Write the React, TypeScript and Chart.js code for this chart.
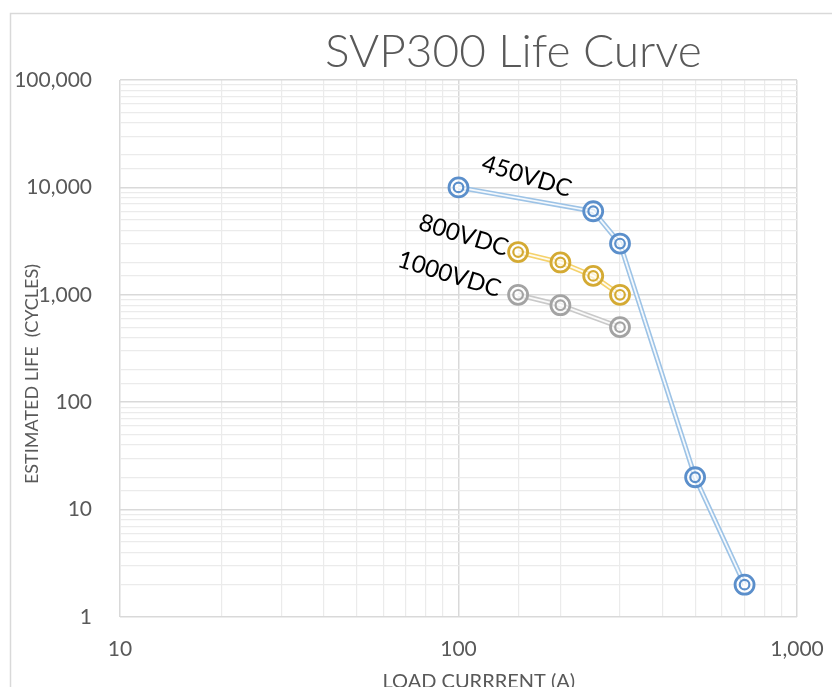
import React, { useEffect, useRef } from "react";
import { Chart, registerables } from "chart.js";

Chart.register(...registerables);

const seriesNames = ["450VDC", "800VDC", "1000VDC"];
const x450 = [100, 250, 300, 500, 700];
const y450 = [10000, 6000, 3000, 20, 2];
const x800 = [150, 200, 250, 300];
const y800 = [2500, 2000, 1500, 1000];
const x1000 = [150, 200, 300];
const y1000 = [1000, 800, 500];

const ringColors = ["#5B8FCB", "#D4AA33", "#A3A3A3"];
const lineColors = ["#9DC3E6", "#F5D26B", "#C9C9C9"];

// label anchors (data coordinates of text centre)
const labelX = [159, 103.5, 94];
const labelY = [12660, 3575, 1549];

const titleText = "SVP300 Life Curve";
const xTitle = "LOAD CURRRENT (A)";
const yTitle = "ESTIMATED LIFE  (CYCLES)";

const FONT = "Lato, 'Open Sans', sans-serif";

const pts = (xs: number[], ys: number[]) => xs.map((x, i) => ({ x, y: ys[i] }));

export default function App() {
  const ref = useRef<HTMLCanvasElement | null>(null);
  useEffect(() => {
    if (!ref.current) return;
    const all = [pts(x450, y450), pts(x800, y800), pts(x1000, y1000)];
    const datasets: any[] = [];
    all.forEach((d, i) => {
      datasets.push({
        label: seriesNames[i] + " outer",
        data: d,
        borderColor: lineColors[i],
        borderWidth: 5,
        pointRadius: 0,
        showLine: true,
        order: 20 + i,
      });
      datasets.push({
        label: seriesNames[i] + " inner",
        data: d,
        borderColor: "rgba(255,255,255,0.9)",
        borderWidth: 1.8,
        pointRadius: 0,
        showLine: true,
        order: 10 + i,
      });
      datasets.push({
        label: seriesNames[i] + " ring",
        data: d,
        showLine: false,
        pointRadius: 9.5,
        pointBorderWidth: 2.8,
        pointBorderColor: ringColors[i],
        pointBackgroundColor: "rgba(255,255,255,0.55)",
        order: 5,
      });
      datasets.push({
        label: seriesNames[i] + " dot",
        data: d,
        showLine: false,
        pointRadius: 4.8,
        pointBorderWidth: 2.2,
        pointBorderColor: ringColors[i],
        pointBackgroundColor: "rgba(255,255,255,0.3)",
        order: 1,
      });
    });

    const decor = {
      id: "decor",
      beforeDraw(chart: any) {
        const ctx = chart.ctx;
        ctx.save();
        ctx.strokeStyle = "#D9D9D9";
        ctx.lineWidth = 1.5;
        ctx.beginPath();
        ctx.moveTo(10.5, chart.height + 5);
        ctx.lineTo(10.5, 13.5);
        ctx.lineTo(chart.width + 5, 13.5);
        ctx.stroke();
        ctx.restore();
      },
      afterDraw(chart: any) {
        const ctx = chart.ctx;
        const ca = chart.chartArea;
        const xs = chart.scales.x;
        const ys = chart.scales.y;
        ctx.save();
        // title
        ctx.fillStyle = "#595959";
        ctx.font = "300 46px " + FONT;
        ctx.textAlign = "center";
        ctx.textBaseline = "middle";
        ctx.fillText(titleText, ca.left + (ca.right - ca.left) * 0.581, 52);
        // axis titles
        ctx.font = "20px " + FONT;
        ctx.fillText(xTitle, ca.left + (ca.right - ca.left) * 0.53, 682);
        ctx.save();
        ctx.translate(32, 374);
        ctx.rotate(-Math.PI / 2);
        ctx.font = "18px " + FONT;
        ctx.fillText(yTitle, 0, 0);
        ctx.restore();
        // series labels
        ctx.fillStyle = "#000000";
        ctx.font = "24px " + FONT;
        seriesNames.forEach((s, i) => {
          const px = xs.getPixelForValue(labelX[i]);
          const py = ys.getPixelForValue(labelY[i]);
          ctx.save();
          ctx.translate(px, py);
          ctx.rotate((17 * Math.PI) / 180);
          ctx.fillText(s, 0, 0);
          ctx.restore();
        });
        ctx.restore();
      },
    };

    const gridColor = (c: any) => (c.tick && c.tick.major ? "#D9D9D9" : "#EBEBEB");
    const fmt = (v: any) => {
      const n = Number(v);
      const l = Math.log10(n);
      if (Math.abs(l - Math.round(l)) < 1e-9) return n.toLocaleString("en-US");
      return "";
    };

    const chart = new Chart(ref.current, {
      type: "line",
      data: { datasets },
      plugins: [decor],
      options: {
        animation: false,
        responsive: true,
        maintainAspectRatio: false,
        layout: { padding: { left: 0, top: 80, right: 35, bottom: 0 } },
        plugins: { legend: { display: false }, tooltip: { enabled: false }, title: { display: false } },
        scales: {
          x: {
            type: "logarithmic",
            min: 10,
            max: 1000,
            grid: { color: gridColor, lineWidth: (c: any) => (c.tick && c.tick.major ? 1.5 : 1.2), drawTicks: false },
            border: { display: false },
            ticks: {
              autoSkip: false,
              maxRotation: 0,
              padding: 20,
              color: "#595959",
              font: { family: FONT, size: 21 },
              callback: (v: any) => fmt(v),
            },
            afterFit: (s: any) => {
              s.height = 70;
              s.paddingLeft = 0;
              s.paddingRight = 0;
            },
          },
          y: {
            type: "logarithmic",
            min: 1,
            max: 100000,
            grid: { color: gridColor, lineWidth: (c: any) => (c.tick && c.tick.major ? 1.5 : 1.2), drawTicks: false },
            border: { display: false },
            ticks: {
              autoSkip: false,
              padding: 28,
              color: "#595959",
              font: { family: FONT, size: 21 },
              callback: (v: any) => fmt(v),
            },
            afterFit: (s: any) => {
              s.width = 120;
              s.paddingTop = 0;
              s.paddingBottom = 0;
            },
          },
        },
      },
    });
    return () => chart.destroy();
  }, []);

  return (
    <div style={{ position: "fixed", left: 0, top: 0, width: 832, height: 687, background: "#fff" }}>
      <canvas ref={ref} />
    </div>
  );
}
